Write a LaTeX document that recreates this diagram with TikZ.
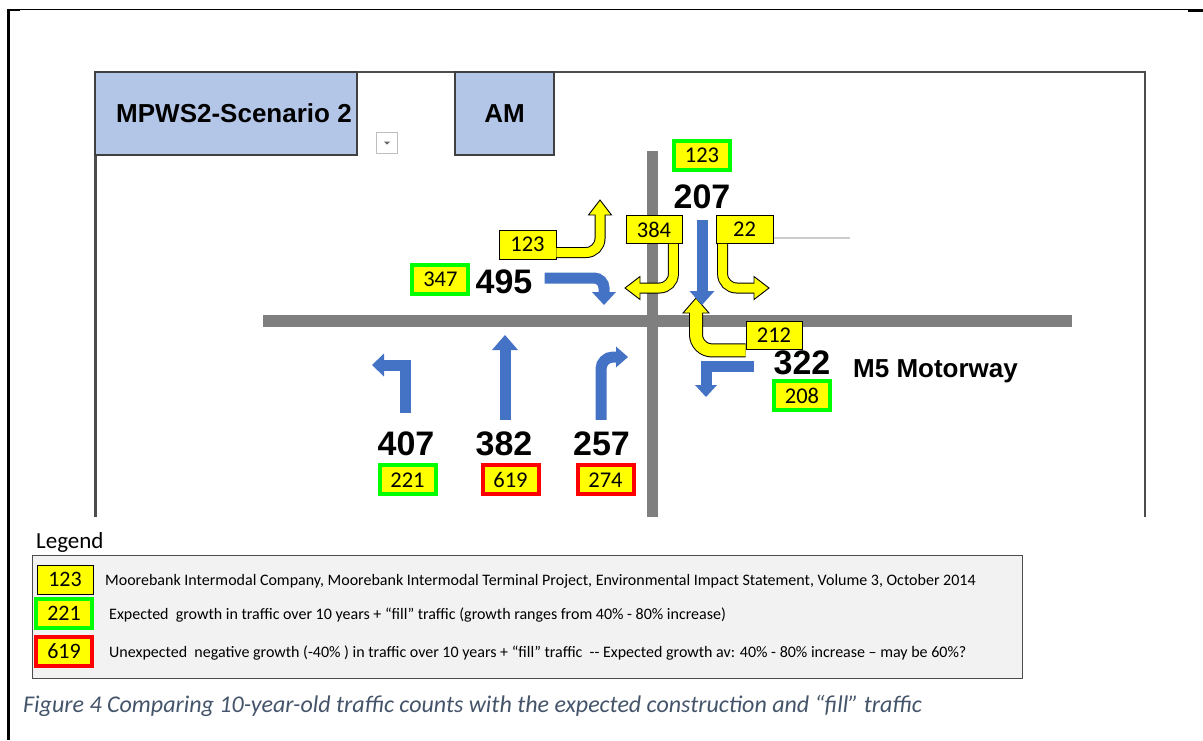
\documentclass[tikz,border=0pt]{standalone}
\usepackage{fontspec}
\setmainfont{Carlito}
\newfontfamily\arialfont{Liberation Sans}
\usetikzlibrary{positioning,calc}
\definecolor{tabblue}{HTML}{B4C6E7}
\definecolor{arrowblue}{HTML}{4472C4}
\definecolor{roadgray}{HTML}{7F7F7F}
\definecolor{capgray}{HTML}{44546A}
\definecolor{legendfill}{HTML}{F2F2F2}
\definecolor{boxgreen}{HTML}{00FF00}
\definecolor{boxred}{HTML}{FF0000}
\definecolor{boxyellow}{HTML}{FFFF00}
\newcommand{\countfont}{\arialfont\bfseries\fontsize{34}{34}\selectfont}
\newcommand{\tabfont}{\arialfont\bfseries\fontsize{26}{26}\selectfont}
\newcommand{\boxfont}{\fontsize{22.5}{22.5}\selectfont}
\newcommand{\legfont}{\fontsize{16}{16}\selectfont}
% arrow head: style, tip, angle, length, half width
\newcommand{\tipat}[5][bhead]{\path[#1,shift={(#2)},rotate=#3] (0,0) -- (-#4,#5) -- (-#4,-#5) -- cycle;}

\begin{document}
\begin{tikzpicture}[x=1pt,y=-1pt]
\tikzstyle{ybox}=[draw=black,fill=boxyellow,line width=0.8pt,font=\boxfont,inner sep=0pt,minimum width=56pt,minimum height=28pt]
\tikzstyle{gbox}=[ybox,draw=boxgreen,line width=4pt,minimum width=56pt,minimum height=29pt]
\tikzstyle{rbox}=[gbox,draw=boxred]
\tikzstyle{count}=[font=\countfont,inner sep=0pt]
\tikzstyle{tab}=[draw=black!75,line width=1.5pt,fill=tabblue,font=\tabfont,inner sep=0pt]
\tikzstyle{road}=[roadgray,line width=12pt]
\tikzstyle{bshaft}=[arrowblue,line width=11pt]
\tikzstyle{bhead}=[fill=arrowblue]
\tikzstyle{yout}=[black,line width=11pt,rounded corners=14pt]
\tikzstyle{yin}=[boxyellow,line width=9pt,rounded corners=14pt]
\tikzstyle{yhead}=[draw=black,fill=boxyellow,line width=0.9pt]
\tikzstyle{legtext}=[font=\legfont,anchor=base west,inner sep=0pt]

\useasboundingbox (0,0) rectangle (1203,740);

% page frame
\draw[line width=1.2pt] (7,9.5) -- (1203,9.5);
\draw[line width=2.5pt] (7,10) -- (20,10);
\draw[line width=2.5pt] (1188,10.5) -- (1203,10.5);
\draw[line width=3pt] (8,8.5) -- (8,740);

% sheet
\draw[black!70,line width=2.5pt] (95.5,517) -- (95.5,72) -- (1145,72) -- (1145,517);
\node[tab,minimum width=262pt,minimum height=83pt] (scen) at (226,113.5) {\hspace*{16pt}MPWS2-Scenario 2};
\node[tab,minimum width=99pt,minimum height=83pt] (am) at (504.5,113.5) {AM};
\node[draw=black!25,fill=white,minimum size=21pt,inner sep=0pt] (dd) at (387,142.5) {};
\fill[black!60] ($(dd.center)+(-3,-1)$) -- ++(6,0) -- ++(-3,3) -- cycle;

% roads
\draw[road] (263,320.5) -- (1072,320.5);
\draw[road,line width=11pt] (652,151) -- (652,517);
\draw[black!20,line width=2pt] (773,238) -- (850,238);

% counts
\node[count] (c207) at (702,197) {207};
\node[count] (c495) at (504,282) {495};
\node[count] (c322) at (802,363) {322};
\node[count] (c407) at (406,444) {407};
\node[count] (c382) at (504,444) {382};
\node[count] (c257) at (601.5,444) {257};
\node[font=\tabfont,anchor=base west,inner sep=0pt] (m5) at (853,377) {M5 Motorway};

% boxes
\node[gbox,above=13pt of c207] (b123n) {123};
\node[gbox,left=5pt of c495,yshift=2.5pt] (b347) {347};
\node[gbox,below=4pt of c322] (b208) {208};
\node[gbox,below=7pt of c407,xshift=1.5pt] (b221) {221};
\node[rbox,below=7pt of c382,xshift=6.5pt] (b619) {619};
\node[rbox,below=7pt of c257,xshift=4pt] (b274) {274};
\node[ybox,minimum width=57pt,minimum height=29pt] (b123w) at (527.5,244.5) {123};
\node[ybox] (b384) at (654,229.5) {384};
\node[ybox,minimum width=57pt] (b22) at (744.5,229.5) {22};
\node[ybox] (b212) at (774,335) {212};

% yellow arrows
\coordinate (s1) at ($(b123w.east)+(0,8)$);
\coordinate (t1) at (600,200);
\coordinate (e1) at ($(t1)+(0,13)$);
\draw[yout] (s1) -| (e1);
\tipat[yhead]{t1}{90}{15}{11.5}
\draw[yin] (s1) -| (e1);

\coordinate (s2) at ($(b384.south east)+(-9,0)$);
\coordinate (t2) at (625,288);
\coordinate (e2) at ($(t2)+(13,0)$);
\draw[yout] (s2) |- (e2);
\tipat[yhead]{t2}{180}{15}{11.5}
\draw[yin] (s2) |- (e2);

\coordinate (s3) at ($(b22.south west)+(7,0)$);
\coordinate (t3) at (769,288);
\coordinate (e3) at ($(t3)+(-13,0)$);
\draw[yout] (s3) |- (e3);
\tipat[yhead]{t3}{0}{15}{11.5}
\draw[yin] (s3) |- (e3);

\coordinate (s4) at ($(b212.south west)+(0,1)$);
\coordinate (t4) at (696,298);
\coordinate (e4) at ($(t4)+(0,13)$);
\draw[yout,line width=14pt,rounded corners=16pt] (s4) -| (e4);
\tipat[yhead]{t4}{90}{15}{13}
\draw[yin,line width=12pt,rounded corners=16pt] (s4) -| (e4);

% blue arrows
\coordinate (t495) at (604,305);
\draw[bshaft,rounded corners=10pt] ($(c495.east)+(12,-4)$) -| ($(t495)+(0,-11)$);
\tipat{t495}{-90}{13}{12}
\coordinate (t207) at (702,305);
\draw[bshaft] ($(c207.south)+(0,10.5)$) -- ($(t207)+(0,-12)$);
\tipat{t207}{-90}{14}{12.5}
\coordinate (t322) at (706,397);
\draw[bshaft] ($(c322.west)+(-19.5,3)$) -| ($(t322)+(0,-10)$);
\tipat{t322}{-90}{12}{11}
\coordinate (t407) at (372,365);
\draw[bshaft] ($(c407.north)+(-0.5,-18.5)$) |- ($(t407)+(11,0)$);
\tipat{t407}{180}{12}{11.5}
\coordinate (t382) at (505,335);
\draw[bshaft] ($(c382.north)+(1,-12)$) -- ($(t382)+(0,13)$);
\tipat{t382}{90}{15}{13}
\coordinate (t257) at (628,357);
\draw[bshaft,rounded corners=12pt] ($(c257.north)+(-0.5,-12)$) |- ($(t257)+(-10,0)$);
\tipat{t257}{0}{12}{10.5}

% legend
\node[font=\fontsize{23}{23}\selectfont,anchor=base west,inner sep=0pt] (legtitle) at (36,548) {Legend};
\node[draw=black!70,fill=legendfill,line width=1pt,minimum width=990pt,minimum height=123pt,inner sep=0pt] (legbox) at (527,616.5) {};
\node[ybox,font=\fontsize{22}{22}\selectfont,minimum height=29pt] (l123) at (65,579.5) {123};
\node[gbox,font=\fontsize{22}{22}\selectfont] (l221) at (64,613.5) {221};
\node[rbox,font=\fontsize{22}{22}\selectfont] (l619) at (64,651.5) {619};
\node[legtext] (txt1) at (105,585) {Moorebank Intermodal Company, Moorebank Intermodal Terminal Project, Environmental Impact Statement, Volume 3, October 2014};
\node[legtext] (txt2) at (109,619) {Expected\ \ growth in traffic over 10 years + “fill” traffic (growth ranges from 40\% - 80\% increase)};
\node[legtext] (txt3) at (109,657) {Unexpected\ \ negative growth (-40\% ) in traffic over 10 years + “fill” traffic\ \ -{}- Expected growth av: 40\% - 80\% increase – may be 60\%?};

\node[font=\itshape\fontsize{24}{24}\selectfont,text=capgray,anchor=base west,inner sep=0pt] (caption) at (23,712) {Figure 4 Comparing 10-year-old traffic counts with the expected construction and “fill” traffic};
\end{tikzpicture}
\end{document}
